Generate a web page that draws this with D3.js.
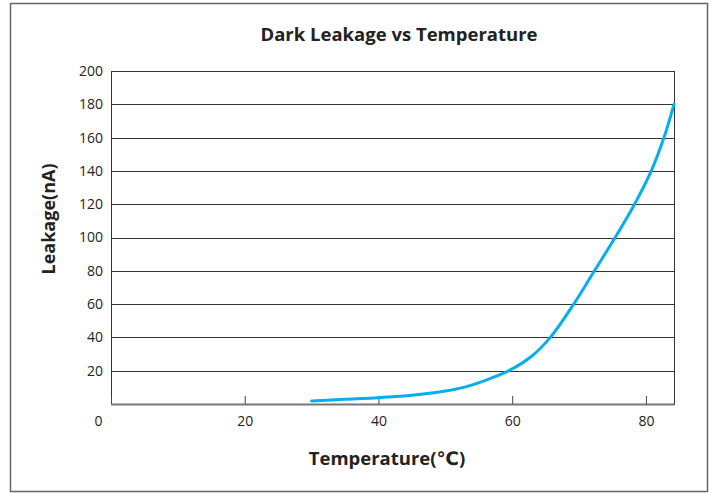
<!DOCTYPE html>
<html>
<head>
<meta charset="utf-8">
<script src="https://cdn.jsdelivr.net/npm/d3@7"></script>
<style>
  body { margin: 0; background: #fff; }
  text { font-family: "Open Sans", "DejaVu Sans", sans-serif; }
</style>
</head>
<body>
<div class="d3chart"></div>
<script>
// values
var temps   = [30, 35, 40, 45, 50, 53, 56, 59.5, 63, 65.7, 69.2, 72.3, 75.4, 78.3, 80.8, 82.7, 84.2];
var leakage = [1.8, 2.8, 3.8, 5.2, 7.8, 10.3, 14.2, 20, 29, 40, 60, 80, 100, 120, 140, 160, 180];
var yTicks  = [20, 40, 60, 80, 100, 120, 140, 160, 180, 200];
var xTicks  = [20, 40, 60, 80];

var width = 715, height = 493;
var margin = {left: 111, right: 41, top: 71, bottom: 89};

var svg = d3.select(".d3chart").append("svg")
    .attr("width", width)
    .attr("height", height);

// outer frame
svg.append("rect")
    .attr("x", 10.5).attr("y", 3.5)
    .attr("width", 697).attr("height", 488)
    .attr("fill", "none")
    .attr("stroke", "#666")
    .attr("stroke-width", 1.5);

var x = d3.scaleLinear().domain([0, 84.2]).range([margin.left, width - margin.right]);
var y = d3.scaleLinear().domain([0, 200]).range([height - margin.bottom, margin.top]);

/************* gridlines ***************/
svg.append("g")
    .attr("class", "grid")
    .selectAll("line")
    .data(yTicks)
    .enter().append("line")
        .attr("x1", x(0))
        .attr("x2", x(84.2))
        .attr("y1", d => Math.round(y(d)) + 0.5)
        .attr("y2", d => Math.round(y(d)) + 0.5)
        .attr("stroke", "#333")
        .attr("stroke-width", 1);

// plot frame
svg.append("rect")
    .attr("x", Math.round(x(0)) + 0.5)
    .attr("y", Math.round(y(200)) + 0.5)
    .attr("width", Math.round(x(84.2)) - Math.round(x(0)))
    .attr("height", Math.round(y(0)) - Math.round(y(200)))
    .attr("fill", "none")
    .attr("stroke", "#333")
    .attr("stroke-width", 1);

// bottom axis line
svg.append("line")
    .attr("x1", x(0)).attr("x2", x(84.2))
    .attr("y1", Math.round(y(0)) + 0.5).attr("y2", Math.round(y(0)) + 0.5)
    .attr("stroke", "#777")
    .attr("stroke-width", 2);

/************* axes ***************/
var yAxis = d3.axisLeft(y).tickValues(yTicks).tickSize(0).tickPadding(8);
var gy = svg.append("g")
    .attr("transform", "translate(" + x(0) + ",0)")
    .call(yAxis);
gy.select(".domain").remove();
gy.selectAll("text")
    .attr("font-size", 14)
    .attr("fill", "#222")
    .style("font-family", "'Open Sans', sans-serif");

var xAxis = d3.axisBottom(x).tickValues([0].concat(xTicks)).tickSize(-8).tickPadding(12)
    .tickFormat(d3.format("d"));
var gx = svg.append("g")
    .attr("transform", "translate(0," + Math.round(y(0)) + ")")
    .call(xAxis);
gx.select(".domain").remove();
gx.selectAll("line").attr("stroke", "#444");
gx.selectAll("text")
    .attr("font-size", 14)
    .attr("fill", "#222")
    .style("font-family", "'Open Sans', sans-serif");
// the shared origin label sits left of the corner
gx.selectAll(".tick").filter(d => d === 0).select("text")
    .attr("x", -13);

/************* curve ***************/
var points = temps.map((t, i) => [t, leakage[i]]);
var line = d3.line()
    .x(d => x(d[0]))
    .y(d => y(d[1]))
    .curve(d3.curveCatmullRom.alpha(0.5));

svg.append("path")
    .datum(points)
    .attr("d", line)
    .attr("fill", "none")
    .attr("stroke", "#05AEEC")
    .attr("stroke-width", 3)
    .attr("stroke-linecap", "round");

/************* titles ***************/
svg.append("text")
    .attr("x", 399).attr("y", 41)
    .attr("text-anchor", "middle")
    .attr("font-size", 18.5)
    .attr("font-weight", "bold")
    .attr("fill", "#222")
    .text("Dark Leakage vs Temperature");

svg.append("text")
    .attr("x", 387).attr("y", 465)
    .attr("text-anchor", "middle")
    .attr("font-size", 18.5)
    .attr("font-weight", "bold")
    .attr("fill", "#222")
    .text("Temperature(℃)");

svg.append("text")
    .attr("transform", "translate(55,219) rotate(-90)")
    .attr("text-anchor", "middle")
    .attr("font-size", 18)
    .attr("font-weight", "bold")
    .attr("fill", "#222")
    .text("Leakage(nA)");
</script>
</body>
</html>
